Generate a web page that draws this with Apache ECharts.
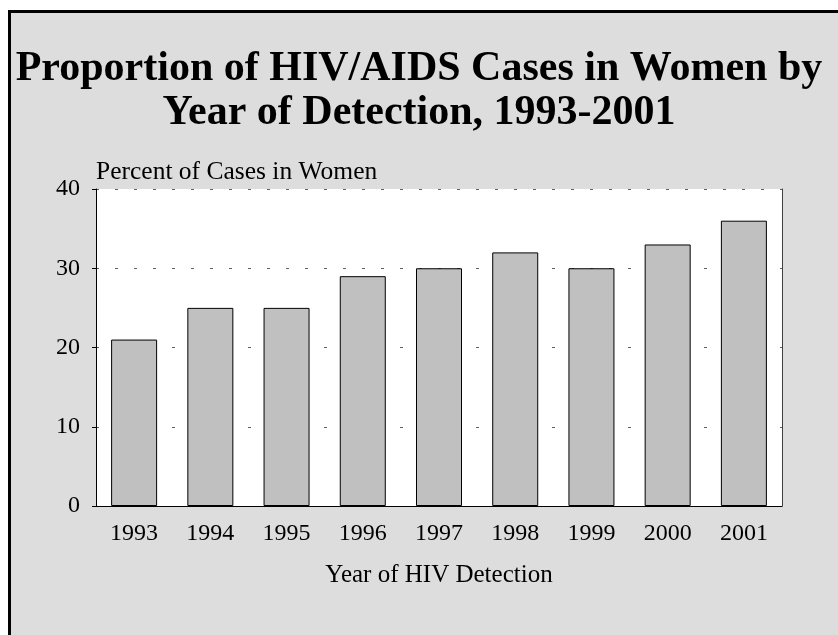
<!DOCTYPE html>
<html>
<head>
<meta charset="utf-8">
<script src="https://cdn.jsdelivr.net/npm/echarts@6/dist/echarts.min.js"></script>
<style>
  html, body { margin: 0; padding: 0; background: #ffffff; }
  #frame {
    position: absolute; left: 8px; top: 10px; width: 830px; height: 625px;
    border-left: 3px solid #000; border-top: 3px solid #000;
    background: #dddddd; box-sizing: border-box;
  }
  #chart { position: absolute; left: 0; top: 0; width: 838px; height: 635px; }
</style>
</head>
<body>
<div id="frame"></div>
<div id="chart"></div>
<script>
// year of detection
var years = ['1993', '1994', '1995', '1996', '1997', '1998', '1999', '2000', '2001'];
// percent of cases in women
var pctWomen = [21, 25, 25, 29, 30, 32, 30, 33, 36];
var yTicks = [0, 10, 20, 30, 40];

var serif = '"Liberation Serif", "Times New Roman", serif';
var chart = echarts.init(document.getElementById('chart'));

var option = {
    backgroundColor: 'transparent',
    animation: false,
    title: {
        text: 'Proportion of HIV/AIDS Cases in Women by\nYear of Detection, 1993-2001',
        left: 'center',
        top: 42,
        textStyle: {
            fontFamily: serif,
            fontSize: 42,
            fontWeight: 'bold',
            color: '#000',
            lineHeight: 44
        }
    },
    grid: {
        left: 96,
        right: 56,
        top: 189,
        bottom: 129,
        show: true,
        backgroundColor: '#ffffff',
        borderWidth: 0
    },
    xAxis: {
        type: 'category',
        data: years,
        name: 'Year of HIV Detection',
        nameLocation: 'middle',
        nameGap: 57,
        nameTextStyle: { fontFamily: serif, fontSize: 25, color: '#000' },
        axisLine: { lineStyle: { color: '#000', width: 1 } },
        axisTick: { show: false },
        axisLabel: { fontFamily: serif, fontSize: 24, color: '#000', margin: 16 }
    },
    yAxis: [{
        type: 'value',
        min: 0,
        max: 40,
        interval: 10,
        name: 'Percent of Cases in Women',
        nameLocation: 'end',
        nameGap: 4,
        nameTextStyle: { fontFamily: serif, fontSize: 25.5, color: '#000', align: 'left', verticalAlign: 'bottom' },
        axisLine: { show: true, lineStyle: { color: '#000', width: 1 } },
        axisTick: { show: true, length: 4, lineStyle: { color: '#000' } },
        axisLabel: {
            fontFamily: serif, fontSize: 24, color: '#000', margin: 16,
            formatter: function (v) { return yTicks.indexOf(v) >= 0 ? String(v) : ''; }
        },
        splitLine: { show: true, lineStyle: { color: '#606060', type: [3, 16], width: 1 } }
    }, {
        type: 'value',
        min: 0,
        max: 40,
        interval: 10,
        position: 'right',
        axisLine: { show: true, lineStyle: { color: '#404040', width: 1 } },
        axisTick: { show: false },
        axisLabel: { show: false },
        splitLine: { show: false }
    }],
    series: [{
        type: 'bar',
        data: pctWomen,
        barWidth: 46,
        itemStyle: { color: '#c0c0c0', borderColor: '#000', borderWidth: 1 }
    }]
};

chart.setOption(option);
</script>
</body>
</html>
